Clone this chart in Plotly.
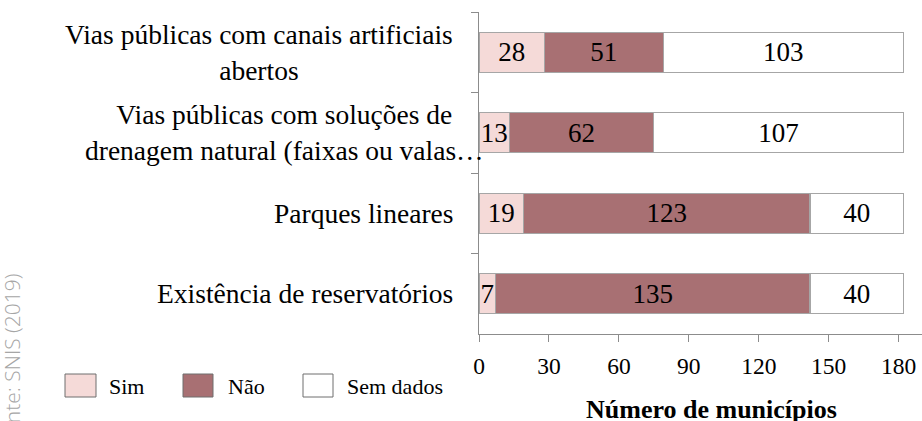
import plotly.graph_objects as go

# Data: municipalities by type of drainage solution
categories = [
    "Vias públicas com canais artificiais<br>abertos",
    "Vias públicas com soluções de<br>drenagem natural (faixas ou valas…",
    "Parques lineares",
    "Existência de reservatórios",
]
sim = [28, 13, 19, 7]
nao = [51, 62, 123, 135]
sem_dados = [103, 107, 40, 40]
series_names = ["Sim", "Não", "Sem dados"]
x_ticks = [0, 30, 60, 90, 120, 150, 180]

W, H = 922, 421
M_L, M_R, M_T, M_B = 479, 0, 12, 87
PW, PH = W - M_L - M_R, H - M_T - M_B

SERIF = "Liberation Serif"
colors = ["#F5DAD8", "#A87073", "#FFFFFF"]
outline = "#A6A6A6"
axis_col = "#8C8C8C"


def px_x(p):
    return (p - M_L) / PW


def px_y(p):
    return (H - M_B - p) / PH


fig = go.Figure()
for name, vals, col in zip(series_names, [sim, nao, sem_dados], colors):
    fig.add_trace(go.Bar(
        name=name, y=categories, x=vals, orientation="h",
        marker=dict(color=col, line=dict(color=outline, width=1.2)),
        width=0.5,
        text=[str(v) for v in vals], textposition="inside",
        insidetextanchor="middle", textangle=0,
        textfont=dict(family=SERIF, size=27, color="#000000"),
        hoverinfo="x+y+name",
    ))

annotations = []
# category labels, centred lines, right aligned block
label_right = [455, 486, 455, 455]
for cat, rp in zip(categories, label_right):
    annotations.append(dict(
        x=px_x(rp), xref="paper", y=cat, yref="y",
        text=cat, showarrow=False, xanchor="right", yanchor="middle",
        align="center", font=dict(family=SERIF, size=27.5, color="#000000"),
    ))

# axis title
annotations.append(dict(
    x=px_x(711), y=px_y(409), xref="paper", yref="paper",
    text="<b>Número de municípios</b>", showarrow=False,
    xanchor="center", yanchor="middle",
    font=dict(family=SERIF, size=26, color="#000000"),
))

# source note, rotated at the left edge
annotations.append(dict(
    x=px_x(12), y=px_y(360), xref="paper", yref="paper",
    text="Fonte: SNIS (2019)", showarrow=False, textangle=-90,
    xanchor="center", yanchor="middle",
    font=dict(family="Open Sans", size=21, color="#A6A6A6", weight=300),
))

# custom legend
shapes = []
legend_boxes = [(65, 96), (183, 213), (303, 333)]
legend_text_x = [107, 226, 345]
for name, col, (x0, x1), tx in zip(series_names, colors, legend_boxes, legend_text_x):
    shapes.append(dict(
        type="rect", xref="paper", yref="paper",
        x0=px_x(x0), x1=px_x(x1), y0=px_y(397), y1=px_y(374),
        fillcolor=col, line=dict(color="#6E6E6E", width=1),
    ))
    annotations.append(dict(
        x=px_x(tx), y=px_y(386), xref="paper", yref="paper",
        text=name, showarrow=False, xanchor="left", yanchor="middle",
        font=dict(family=SERIF, size=22, color="#000000"),
    ))

fig.update_layout(
    width=W, height=H,
    margin=dict(l=M_L, r=M_R, t=M_T, b=M_B, pad=0),
    barmode="stack",
    showlegend=False,
    plot_bgcolor="#FFFFFF", paper_bgcolor="#FFFFFF",
    annotations=annotations, shapes=shapes,
    uniformtext=dict(minsize=27, mode="show"),
    xaxis=dict(
        range=[0, 190], tickvals=x_ticks, ticktext=[str(t) for t in x_ticks],
        showgrid=False, zeroline=False, showline=True, linecolor=axis_col,
        linewidth=1.2, ticks="outside", ticklen=7, tickcolor=axis_col,
        ticklabelstandoff=4,
        tickfont=dict(family=SERIF, size=23.5, color="#000000"),
        fixedrange=True,
    ),
    yaxis=dict(
        type="category", categoryorder="array", categoryarray=categories,
        autorange="reversed", showticklabels=False, showgrid=False,
        zeroline=False, showline=True, linecolor=axis_col, linewidth=1.2,
        ticks="outside", ticklen=7, tickcolor=axis_col, tickson="boundaries",
        fixedrange=True,
    ),
)

fig.write_html("out.html")
